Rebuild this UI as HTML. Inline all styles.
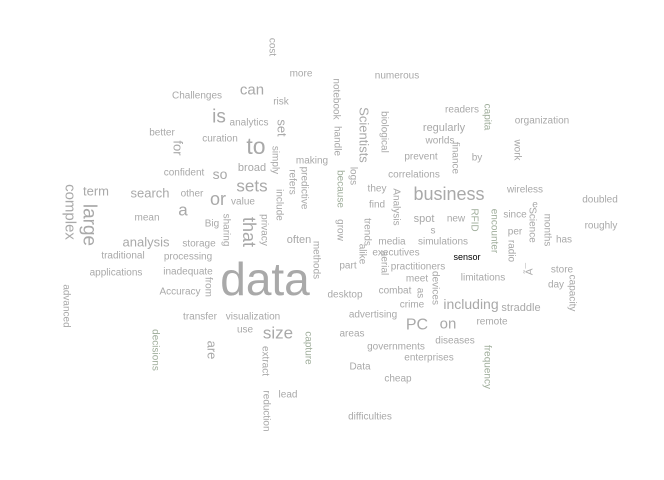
<!DOCTYPE html>
<html><head><meta charset="utf-8"><style>
html,body{margin:0;padding:0;background:#fff;}
svg text{font-family:"Liberation Sans",sans-serif;}
</style></head><body>
<svg id="cloud" width="664" height="475" viewBox="0 0 664 475"></svg>
<script>
const words=["cost","more","Challenges","can","risk","is","analytics","set","better","curation","to","for","confident","so","broad","simply","making","sets","refers","predictive","term","complex","search","other","or","value","include","a","large","mean","Big","sharing","that","privacy","often","analysis","storage","traditional","processing","methods","applications","inadequate","data","Accuracy","from","advanced","transfer","visualization","use","size","decisions","capture","are","extract","lead","reduction","notebook","handle","numerous","Scientists","biological","readers","capita","organization","regularly","worlds","work","prevent","finance","by","logs","because","correlations","they","Analysis","business","wireless","doubled","find","e","grow","trends","spot","new","RFID","encounter","since","Science","months","s","per","roughly","has","media","simulations","alike","radio","executives","sensor","aerial","part","practitioners","Ã¯","store","meet","devices","limitations","day","capacity","combat","as","desktop","crime","including","straddle","advertising","PC","on","remote","areas","diseases","governments","frequency","enterprises","Data","cheap","difficulties"];
const sizes=[10,10,10,15,10,19,10,13,10,10,23,13,10,14,11,10,10,17,10,10,13,15,13,10,18,10,10,17,19,10,10,10,18,10,11,13,10,10,10,10,10,10,46,10,10,10,10,10,10,17,10,10,13,10,10,10,10,10,10,13,10,10,10,10,11,10,10,10,10,10,10,10,10,10,10,18,10,10,10,10,10,10,11,10,10,10,10,10,10,10,10,10,10,10,10,10,10,10,9,10,10,10,10,10,10,10,10,10,10,10,10,10,10,14,11,10,16,15,10,10,10,10,10,10,10,10,10];
const rots=[90,0,0,0,0,0,0,90,0,0,0,90,0,0,0,90,0,0,90,90,0,90,0,0,0,0,90,0,90,0,0,90,90,90,0,0,0,0,0,90,0,0,0,0,90,90,0,0,0,0,90,90,90,90,0,90,90,90,0,90,90,0,90,0,0,0,90,0,90,0,90,90,0,0,90,0,0,0,0,0,90,90,0,0,90,90,0,90,90,0,0,0,0,0,0,90,90,0,0,90,0,0,-90,0,0,90,0,0,90,0,90,0,0,0,0,0,0,0,0,0,0,0,90,0,0,0,0];
const greenWords=["because","capita","decisions","capture","encounter","frequency","RFID"];
const px=[272,301,197,252,281,219,249,282,162,220,256,178,184,220,252,275,312,252,292,304,96,70,150,192,218,243,279,183,89,147,212,226,249,264,299,146,199,123,188,316,116,188,265,180,208,66,200,253,245,278,155,308,212,265,288,266,336,337,397,364,384,462,487,542,444,440,517,421,455,477,353,340,414,377,396,449,525,600,377,535,340,367,424,456,474,494,515,532,547,433,515,601,564,392,443,362,511,396,467,384,348,418,530,562,417,435,483,556,572,395,420,345,412,471,521,373,417,448,492,352,455,396,487,429,360,398,370];
const py=[47,74,96,90,102,117,123,128,133,139,146,148,173,174,168,160,161,186,182,188,191,212,193,194,199,202,205,210,225,218,224,230,232,230,240,242,244,256,257,260,273,272,279,292,287,306,317,317,330,333,350,348,350,361,395,411,99,141,76,135,132,110,117,121,128,141,150,157,158,158,176,189,175,189,207,194,190,200,205,205,230,232,219,219,220,231,215,225,230,231,232,226,240,242,242,254,251,253,257,263,266,267,269,270,279,288,278,285,293,291,293,295,305,304,308,315,325,324,322,334,341,347,367,358,367,379,417];
const svg=document.getElementById('cloud');
const NS='http://www.w3.org/2000/svg';
for(let i=0;i<words.length;i++){
  const t=document.createElementNS(NS,'text');
  
  
  t.setAttribute('x',px[i]);t.setAttribute('y',py[i]);
  t.setAttribute('text-anchor','middle');
  t.setAttribute('dominant-baseline','central');
  t.setAttribute('font-size',sizes[i]);
  let c='#a9a9a9';
  if(words[i]==='sensor')c='#000';
  else if(greenWords.indexOf(words[i])>=0)c='#a0ae9c';
  t.setAttribute('fill',c);
  if(rots[i])t.setAttribute('transform','rotate('+rots[i]+' '+px[i]+' '+py[i]+')');
  t.textContent=words[i];
  svg.appendChild(t);
}
</script>
</body></html>
